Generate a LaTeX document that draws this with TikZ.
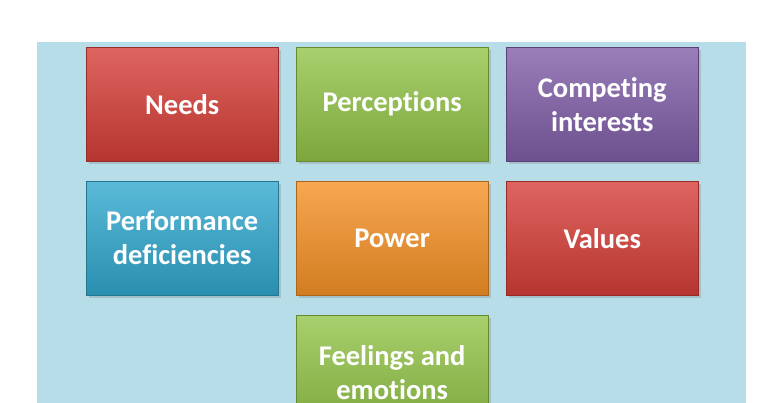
\documentclass[tikz,border=0pt]{standalone}
\usepackage{fontspec}
\setmainfont{Carlito}[Ligatures=NoCommon]
\usetikzlibrary{shadows}
\begin{document}
\begin{tikzpicture}[x=1pt,y=-1pt,
  box/.style={minimum width=192pt,minimum height=114pt,anchor=north west,draw=#1!70!black,
    top color=#1!80!white,bottom color=#1!85!black,text=white,font=\bfseries\fontsize{28.5}{34}\selectfont,
    align=center,inner sep=0pt,drop shadow={opacity=0.3}},
  ]
\useasboundingbox (0,0) rectangle (768,403);
\fill[white] (0,0) rectangle (768,403);
\fill[fill={rgb,255:red,182;green,221;blue,232}] (37,42) rectangle (746,403);
\definecolor{cred}{RGB}{214,62,56}
\definecolor{cgreen}{RGB}{146,196,72}
\definecolor{cpurple}{RGB}{128,94,168}
\definecolor{cblue}{RGB}{49,168,206}
\definecolor{corange}{RGB}{246,146,38}
\begin{scope}
\clip (0,0) rectangle (768,403);
\node[box=cred] (needs) at (86,47) {Needs};
\node[box=cgreen] (perc) at (296,47) {Perceptions};
\node[box=cpurple] (comp) at (506,47) {Competing\\interests};
\node[box=cblue] (perf) at (86,181) {Performance\\deficiencies};
\node[box=corange] (power) at (296,181) {Power};
\node[box=cred] (values) at (506,181) {Values};
\node[box=cgreen] (feel) at (296,315) {Feelings and\\emotions};
\end{scope}
\end{tikzpicture}
\end{document}
